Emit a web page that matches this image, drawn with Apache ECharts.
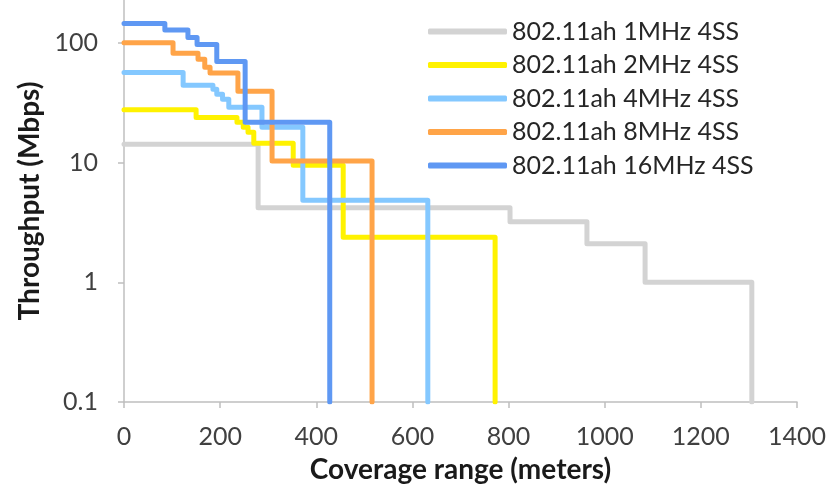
<!DOCTYPE html>
<html>
<head>
<meta charset="utf-8">
<script src="https://cdn.jsdelivr.net/npm/echarts@6/dist/echarts.min.js"></script>
<style>
  html, body { margin: 0; padding: 0; background: #ffffff; }
  #chart { width: 831px; height: 491px; }
</style>
</head>
<body>
<div id="chart"></div>
<script>
// Series names, in legend order
const seriesNames = [
  '802.11ah 1MHz 4SS',
  '802.11ah 2MHz 4SS',
  '802.11ah 4MHz 4SS',
  '802.11ah 8MHz 4SS',
  '802.11ah 16MHz 4SS'
];

// Coverage distance (m) at which each throughput step begins;
// the final entry is the edge of coverage, where throughput falls to the axis floor.
const dist1MHz  = [0, 279, 803, 963, 1084, 1306];
const dist2MHz  = [0, 150, 235, 248, 258, 270, 352, 456, 772];
const dist4MHz  = [0, 123, 185, 193, 205, 218, 287, 372, 632];
const dist8MHz  = [0, 102, 154, 168, 179, 237, 308, 516];
const dist16MHz = [0, 85, 133, 152, 193, 252, 428];

// Throughput (Mbps) for each step
const thr1MHz  = [14.2, 4.2, 3.2, 2.1, 1.0, 0.1];
const thr2MHz  = [27.6, 23.8, 21.7, 19.7, 17.9, 14.5, 9.5, 2.38, 0.1];
const thr4MHz  = [56.5, 44.2, 41, 37.2, 33.8, 29.0, 19.7, 4.84, 0.1];
const thr8MHz  = [100, 82, 73, 62.5, 56, 39.4, 10.3, 0.1];
const thr16MHz = [145, 128, 111, 97, 70, 21.7, 0.1];

// Axis ticks
const xTicks = [0, 200, 400, 600, 800, 1000, 1200, 1400];
const yTicks = [0.1, 1, 10, 100];
// Top of the value range shown on the log axis
const yTop = 228;

const dists = [dist1MHz, dist2MHz, dist4MHz, dist8MHz, dist16MHz];
const thrs = [thr1MHz, thr2MHz, thr4MHz, thr8MHz, thr16MHz];
const colors = ['#d3d3d3', '#fff200', '#84c8ff', '#ffa448', '#5f98f3'];

const FONT = 'Lato, "Open Sans", sans-serif';

const chart = echarts.init(document.getElementById('chart'), null, { renderer: 'canvas' });

const series = seriesNames.map((name, i) => ({
  name: name,
  type: 'line',
  step: 'end',
  showSymbol: false,
  symbol: 'none',
  animation: false,
  data: dists[i].map((d, k) => [d, thrs[i][k]]),
  lineStyle: { width: 5, color: colors[i], cap: 'round', join: 'round' },
  itemStyle: { color: colors[i] },
  z: 2 + i
}));

chart.setOption({
  backgroundColor: '#ffffff',
  animation: false,
  grid: { left: 124, right: 34, top: 0, bottom: 89, containLabel: false },
  legend: {
    orient: 'vertical',
    left: 428,
    top: 19,
    padding: 0,
    itemWidth: 79,
    itemHeight: 6,
    itemGap: 8.5,
    icon: 'roundRect',
    data: seriesNames,
    textStyle: { fontFamily: FONT, fontSize: 25, color: '#262626', padding: [0, 0, 0, 0] },
    selectedMode: false
  },
  xAxis: {
    type: 'value',
    min: xTicks[0],
    max: xTicks[xTicks.length - 1],
    interval: xTicks[1] - xTicks[0],
    name: 'Coverage range (meters)',
    nameLocation: 'middle',
    nameGap: 54,
    nameTextStyle: { fontFamily: FONT, fontSize: 28, fontWeight: 'bold', color: '#1a1a1a' },
    axisLine: { show: true, lineStyle: { color: '#bfbfbf', width: 1.5 } },
    axisTick: { show: true, inside: false, length: 6, lineStyle: { color: '#bfbfbf', width: 1.5 } },
    axisLabel: { fontFamily: FONT, fontSize: 25, color: '#404040', margin: 22, formatter: v => String(v) },
    splitLine: { show: false }
  },
  yAxis: {
    type: 'log',
    logBase: 10,
    min: yTicks[0],
    max: yTop,
    name: 'Throughput (Mbps)',
    nameLocation: 'middle',
    nameGap: 80,
    nameRotate: 90,
    nameTextStyle: { fontFamily: FONT, fontSize: 28, fontWeight: 'bold', color: '#1a1a1a' },
    axisLine: { show: true, lineStyle: { color: '#bfbfbf', width: 1.5 } },
    axisTick: { show: true, inside: false, length: 6, customValues: yTicks, lineStyle: { color: '#bfbfbf', width: 1.5 } },
    axisLabel: { fontFamily: FONT, fontSize: 25, color: '#404040', margin: 26, customValues: yTicks, formatter: v => String(v) },
    splitLine: { show: false }
  },
  series: series
});
</script>
</body>
</html>
